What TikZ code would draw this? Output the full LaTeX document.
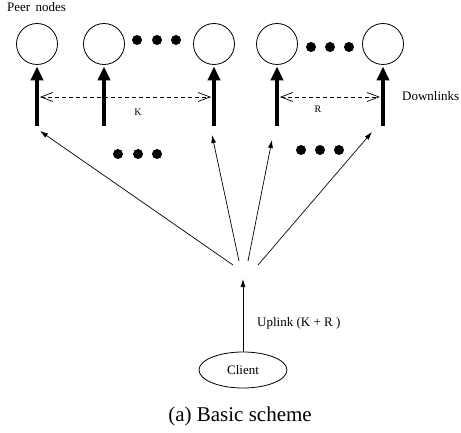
\documentclass[tikz,border=0pt]{standalone}
\usepackage{fontspec}
\setmainfont{Liberation Serif}
\usetikzlibrary{arrows.meta,shapes.geometric}
\begin{document}
\begin{tikzpicture}[x=1pt,y=-1pt,
  peer/.style={draw,circle,line width=0.8pt,minimum size=41pt,inner sep=0pt},
  blob/.style={fill=black,circle,minimum size=10pt,inner sep=0pt},
  down/.style={line width=4.5pt,-{Triangle[length=14pt,width=12pt]}},
  thin/.style={line width=0.7pt,-{Latex[length=8pt,width=5pt]}},
  span/.style={dashed,line width=0.7pt,dash pattern=on 4pt off 3pt,{Straight Barb[length=12pt,width=9pt]}-{Straight Barb[length=12pt,width=9pt]}},
  lbl/.style={font=\fontsize{13}{15}\selectfont,inner sep=0pt},
  small/.style={font=\fontsize{10}{12}\selectfont,inner sep=0pt}]
\useasboundingbox (0,0) rectangle (461,433);
% peers
\node[peer] (p1) at (37,44) {};
\node[peer] (p2) at (104,44) {};
\node[peer] (p3) at (214,44) {};
\node[peer] (p4) at (277,44) {};
\node[peer] (p5) at (383,44) {};
% dots
\foreach \x/\n in {137/a,157/b,176/c} \node[blob] (dt\n) at (\x,40) {};
\foreach \x/\n in {311/a,330/b,349/c} \node[blob] (dr\n) at (\x,47) {};
\foreach \x/\n in {118/a,138/b,157/c} \node[blob] (dm\n) at (\x,154) {};
\foreach \x/\n in {301/a,320/b,339/c} \node[blob] (dn\n) at (\x,150) {};
% thick downlinks
\coordinate (b1) at (37,126);
\coordinate (b2) at (104,126);
\coordinate (b3) at (214,126);
\coordinate (b4) at (277,126);
\coordinate (b5) at (383,126);
\foreach \i in {1,...,5} \draw[down] (b\i) -- ([yshift=-1.5pt]p\i.south);
% dashed spans
\coordinate (kL) at (40,97);
\coordinate (kR) at (211,97);
\coordinate (rL) at (280,97);
\coordinate (rR) at (380,97);
\draw[span] (kL) -- (kR);
\draw[span] (rL) -- (rR);
\node[small] (K) at (138,112) {K};
\node[small] (R) at (318,109) {R};
% labels
\node[lbl,anchor=base west] (peerlbl) at (7,12) {Peer\, nodes};
\node[lbl,anchor=base west] (downlbl) at (402,101) {Downlinks};
% thin arrows
\coordinate (s1) at (233,265);
\coordinate (s2) at (239,261);
\coordinate (s3) at (248,261);
\coordinate (s4) at (258,265);
\coordinate (t1) at (40,131);
\coordinate (t2) at (212,135);
\coordinate (t3) at (272,140);
\coordinate (t4) at (372,132);
\foreach \i in {1,...,4} \draw[thin] (s\i) -- (t\i);
% client
\node[draw,ellipse,line width=0.8pt,minimum width=88pt,minimum height=36pt,inner sep=0pt,font=\fontsize{13}{15}\selectfont] (client) at (243,370) {Client};
\coordinate (up) at (243,279);
\draw[thin] (client.north) -- (up);
\node[lbl,anchor=west] (uplbl) at (257,323) {Uplink (K + R )};
\node[font=\fontsize{21}{25}\selectfont,inner sep=0pt,anchor=base] (cap) at (240,421) {(a) Basic scheme};
\end{tikzpicture}
\end{document}
